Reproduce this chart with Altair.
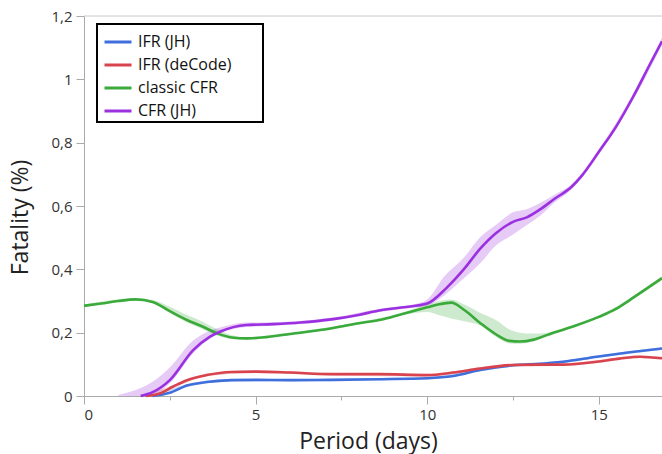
import altair as alt
import pandas as pd

FONT = "Open Sans"

series_names = ["IFR (JH)", "IFR (deCode)", "classic CFR", "CFR (JH)"]
series_colors = ["#3f6fdc", "#d9434e", "#3aaa3a", "#9b30e0"]

# --- line values ---
jh_x = [2.0, 2.5, 3.0, 3.57, 4.3, 5.0, 6.0, 7.2, 8.6, 10.0, 10.76, 11.54, 12.5, 13.2, 13.96, 14.94, 15.9, 16.84]
jh_y = [0.0, 0.01, 0.033, 0.044, 0.05, 0.051, 0.05, 0.051, 0.053, 0.056, 0.063, 0.082, 0.097, 0.101, 0.108, 0.124, 0.138, 0.15]

dc_x = [1.8, 2.2, 2.6, 3.0, 3.57, 4.3, 5.0, 6.0, 7.2, 8.6, 10.0, 10.76, 11.54, 12.5, 13.2, 13.96, 14.94, 15.6, 16.2, 16.84]
dc_y = [0.0, 0.008, 0.03, 0.05, 0.066, 0.076, 0.077, 0.074, 0.069, 0.069, 0.066, 0.074, 0.087, 0.098, 0.099, 0.099, 0.108, 0.118, 0.124, 0.119]

cl_x = [0.0, 0.5, 1.0, 1.5, 2.0, 2.5, 3.0, 3.4, 3.9, 4.3, 4.75, 5.3, 6.0, 7.0, 8.0, 8.6, 9.3, 10.0, 10.35, 10.7, 11.1, 11.55, 12.0, 12.4, 12.7, 13.1, 13.5, 14.2, 15.0, 15.5, 15.9, 16.4, 16.84]
cl_y = [0.285, 0.292, 0.3, 0.305, 0.297, 0.268, 0.24, 0.222, 0.197, 0.185, 0.182, 0.186, 0.196, 0.21, 0.23, 0.24, 0.26, 0.28, 0.29, 0.295, 0.27, 0.23, 0.195, 0.174, 0.172, 0.178, 0.193, 0.218, 0.25, 0.275, 0.303, 0.34, 0.372]

cf_x = [1.65, 2.0, 2.5, 3.18, 3.66, 3.96, 4.73, 5.5, 6.3, 7.2, 8.0, 8.6, 9.3, 10.0, 10.55, 11.05, 11.55, 12.0, 12.5, 12.9, 13.3, 13.7, 14.2, 14.5, 15.0, 15.5, 16.0, 16.5, 16.84]
cf_y = [0.0, 0.012, 0.05, 0.145, 0.187, 0.203, 0.224, 0.227, 0.232, 0.242, 0.256, 0.27, 0.28, 0.292, 0.34, 0.398, 0.466, 0.514, 0.55, 0.564, 0.59, 0.622, 0.66, 0.695, 0.771, 0.85, 0.945, 1.05, 1.12]

# --- uncertainty bands ---
jh_bx = [2.0, 3.0, 4.3, 6.0, 8.6, 10.0, 11.54, 12.5, 13.96, 14.94, 16.84]
jh_lo = [0.0, 0.029, 0.046, 0.046, 0.049, 0.052, 0.078, 0.093, 0.104, 0.12, 0.146]
jh_hi = [0.004, 0.037, 0.054, 0.054, 0.057, 0.06, 0.086, 0.101, 0.112, 0.128, 0.154]

dc_bx = [1.8, 2.6, 3.57, 5.0, 7.2, 10.0, 11.54, 12.5, 13.96, 15.6, 16.2, 16.84]
dc_lo = [0.0, 0.026, 0.062, 0.073, 0.065, 0.062, 0.083, 0.094, 0.095, 0.114, 0.12, 0.115]
dc_hi = [0.004, 0.034, 0.07, 0.081, 0.073, 0.07, 0.091, 0.102, 0.103, 0.122, 0.128, 0.123]

cl_bx = [0.0, 1.5, 2.0, 2.5, 3.0, 3.4, 3.9, 4.3, 4.75, 6.0, 8.0, 9.3, 10.0, 10.35, 10.7, 11.1, 11.55, 12.0, 12.4, 12.7, 13.1, 13.5, 14.2, 15.0, 15.9, 16.84]
cl_lo = [0.281, 0.301, 0.293, 0.262, 0.232, 0.214, 0.19, 0.18, 0.178, 0.192, 0.226, 0.256, 0.265, 0.255, 0.245, 0.235, 0.222, 0.187, 0.166, 0.165, 0.172, 0.188, 0.214, 0.246, 0.298, 0.366]
cl_hi = [0.289, 0.309, 0.303, 0.282, 0.256, 0.238, 0.21, 0.192, 0.186, 0.2, 0.234, 0.264, 0.29, 0.3, 0.305, 0.288, 0.262, 0.24, 0.21, 0.2, 0.197, 0.2, 0.222, 0.254, 0.308, 0.378]

cf_bx = [1.0, 1.65, 2.0, 2.5, 3.18, 3.66, 3.96, 4.73, 5.5, 7.2, 8.6, 9.5, 10.0, 10.5, 11.05, 11.55, 12.0, 12.5, 12.9, 13.3, 13.7, 14.2, 15.0, 16.0, 16.84]
cf_lo = [0.0, 0.0, 0.004, 0.04, 0.135, 0.18, 0.198, 0.218, 0.222, 0.237, 0.265, 0.278, 0.285, 0.318, 0.37, 0.42, 0.475, 0.51, 0.54, 0.57, 0.61, 0.652, 0.763, 0.935, 1.108]
cf_hi = [0.003, 0.025, 0.045, 0.09, 0.175, 0.205, 0.216, 0.232, 0.233, 0.247, 0.275, 0.287, 0.305, 0.378, 0.435, 0.502, 0.54, 0.58, 0.59, 0.61, 0.635, 0.668, 0.779, 0.955, 1.132]

line_sets = [(jh_x, jh_y), (dc_x, dc_y), (cl_x, cl_y), (cf_x, cf_y)]
band_sets = [(jh_bx, jh_lo, jh_hi), (dc_bx, dc_lo, dc_hi), (cl_bx, cl_lo, cl_hi), (cf_bx, cf_lo, cf_hi)]

line_rows = []
for name, (xs, ys) in zip(series_names, line_sets):
    for xv, yv in zip(xs, ys):
        line_rows.append({"series": name, "x": xv, "y": yv})
line_df = pd.DataFrame(line_rows)

band_rows = []
for name, (xs, los, his) in zip(series_names, band_sets):
    for xv, lo, hi in zip(xs, los, his):
        band_rows.append({"series": name, "x": xv, "lo": lo, "hi": hi})
band_df = pd.DataFrame(band_rows)

x_ticks = [0, 2.5, 5, 7.5, 10, 12.5, 15]
y_ticks = [0, 0.2, 0.4, 0.6, 0.8, 1.0, 1.2]
x_max = 16.84
y_max = 1.2

color_scale = alt.Scale(domain=series_names, range=series_colors)
x_scale = alt.Scale(domain=[0, x_max], nice=False, zero=False)
y_scale = alt.Scale(domain=[0, y_max], nice=False)

x_axis = alt.Axis(
    values=x_ticks, title="Period (days)", grid=False, format="~g",
    labelExpr="datum.value % 5 == 0 ? datum.label : ''",
    tickSize={"condition": {"test": "datum.value % 5 != 0", "value": 4}, "value": 8},
    labelPadding=3, titleX=284, titleY=52, titleBaseline="alphabetic",
)
y_axis = alt.Axis(
    values=y_ticks, title="Fatality (%)", grid=False, format="~g",
    labelExpr="replace(datum.label, '.', ',')",
    tickSize=8, labelPadding=4, titleX=-57, titleY=201,
    titleBaseline="alphabetic", titleAlign="center",
)

legend = alt.Legend(
    orient="none", legendX=19, legendY=11, title=None,
    symbolType="stroke", symbolSize=729, symbolStrokeWidth=3, symbolOpacity=1,
    labelFontSize=16, labelFont=FONT, labelColor="#111111",
    rowPadding=-6, labelOffset=5, padding=0,
)

bands = alt.Chart(band_df).mark_area(interpolate="monotone", opacity=0.25).encode(
    x=alt.X("x:Q", scale=x_scale, axis=x_axis),
    y=alt.Y("lo:Q", scale=y_scale, axis=y_axis),
    y2="hi:Q",
    color=alt.Color("series:N", scale=color_scale, sort=series_names, legend=legend),
)

lines = alt.Chart(line_df).mark_line(interpolate="monotone", strokeWidth=2.6).encode(
    x=alt.X("x:Q", scale=x_scale),
    y=alt.Y("y:Q", scale=y_scale),
    color=alt.Color("series:N", scale=color_scale, sort=series_names, legend=legend),
)

top_rule = alt.Chart(pd.DataFrame({"y": [y_max]})).mark_rule(color="#c8c8c8", strokeWidth=1).encode(
    y=alt.Y("y:Q", scale=y_scale)
)

legend_box = alt.Chart(pd.DataFrame({"a": [0]})).mark_rect(
    fill="white", stroke="black", strokeWidth=2
).encode(
    x=alt.value(13), x2=alt.value(179), y=alt.value(8), y2=alt.value(106)
)

chart = alt.layer(top_rule, bands, legend_box, lines).properties(
    width=578, height=380,
    autosize=alt.AutoSizeParams(type="none"),
    padding={"left": 84, "top": 16, "right": 0, "bottom": 58},
).configure_view(stroke=None).configure_axis(
    domainColor="#aaaaaa", tickColor="#aaaaaa",
    labelFont=FONT, labelFontSize=15, labelColor="#333333",
    titleFont=FONT, titleFontSize=23, titleFontWeight="normal", titleColor="#222222",
)

chart.save("out.html", embed_options={"renderer": "svg", "actions": False})
